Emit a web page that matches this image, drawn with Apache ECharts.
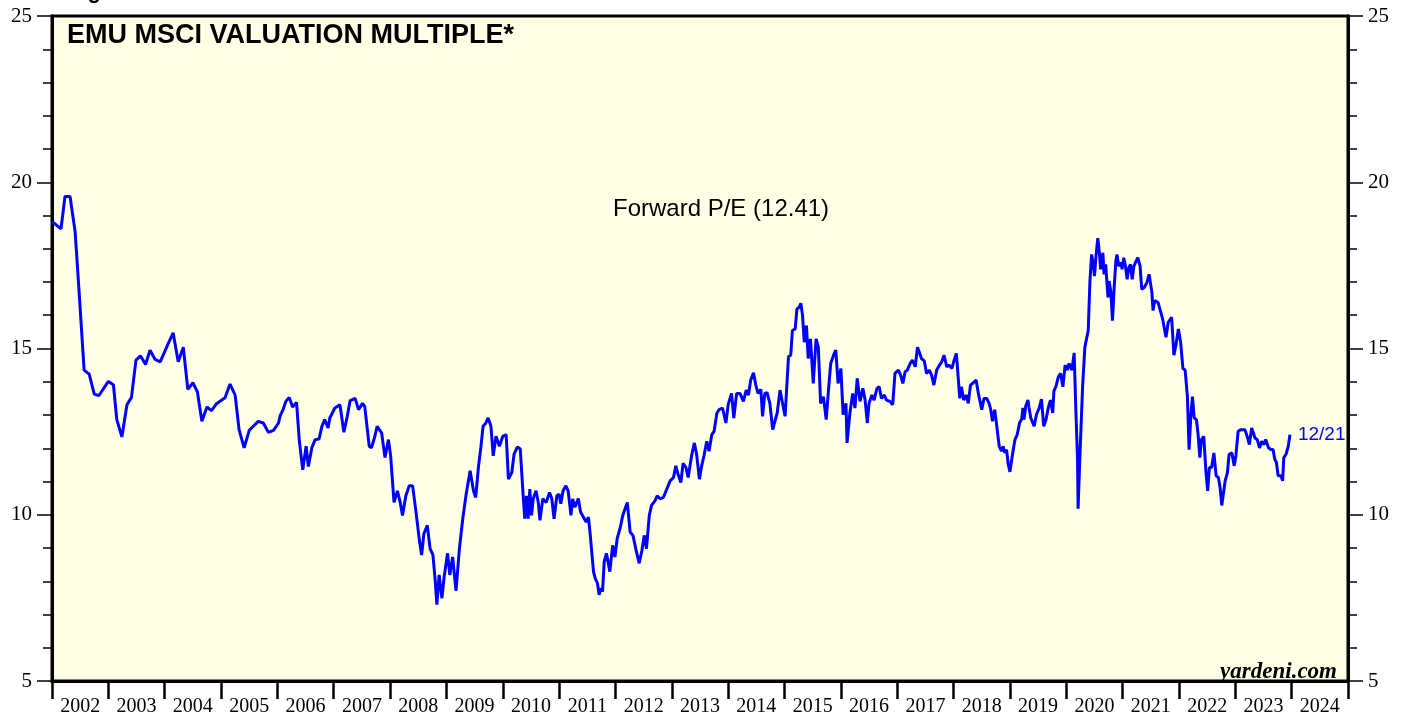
<!DOCTYPE html>
<html>
<head>
<meta charset="utf-8">
<title>EMU MSCI Valuation Multiple</title>
<script src="https://cdn.jsdelivr.net/npm/echarts@6/dist/echarts.min.js"></script>
<style>
  html, body { margin: 0; padding: 0; background: #fff; }
  #chart { width: 1408px; height: 717px; }
</style>
</head>
<body>
<div id="chart"></div>
<script>
// year labels under the bottom axis
var yearLabels = ['2002','2003','2004','2005','2006','2007','2008','2009','2010','2011','2012',
  '2013','2014','2015','2016','2017','2018','2019','2020','2021','2022','2023','2024'];

// dates as decimal years
var dates = [
  2002.00,2002.16,2002.23,2002.32,2002.41,2002.48,2002.57,2002.66,2002.75,2002.83,
  2003.00,2003.09,2003.15,2003.24,2003.33,2003.41,2003.49,2003.57,2003.66,2003.74,2003.83,2003.92,
  2004.06,2004.15,2004.24,2004.33,2004.41,2004.50,2004.58,2004.66,2004.75,2004.83,2004.92,
  2005.07,2005.16,2005.25,2005.32,2005.41,2005.50,2005.66,2005.75,2005.84,2005.93,
  2006.02,2006.05,2006.10,2006.15,2006.21,2006.27,2006.34,2006.39,2006.45,2006.51,2006.55,2006.61,
  2006.67,2006.74,2006.79,2006.84,2006.90,2006.93,
  2007.02,2007.11,2007.18,2007.24,2007.29,2007.38,2007.44,2007.51,2007.55,2007.63,2007.67,2007.73,
  2007.77,2007.85,2007.91,2007.97,
  2008.01,2008.07,2008.13,2008.18,2008.22,2008.28,2008.34,2008.40,2008.46,2008.52,2008.56,2008.60,
  2008.66,2008.71,2008.76,2008.80,2008.83,2008.87,2008.92,2008.96,
  2009.02,2009.06,2009.11,2009.17,2009.23,2009.29,2009.35,2009.42,2009.48,2009.52,2009.57,2009.61,
  2009.65,2009.70,2009.74,2009.79,2009.83,2009.88,2009.94,
  2010.00,2010.06,2010.10,2010.16,2010.20,2010.26,2010.31,2010.36,2010.39,2010.42,2010.45,2010.48,
  2010.51,2010.54,2010.59,2010.63,2010.66,2010.71,2010.77,2010.83,2010.87,2010.91,2010.96,
  2011.00,2011.03,2011.07,2011.12,2011.16,2011.21,2011.24,2011.28,2011.34,2011.38,2011.43,2011.48,
  2011.52,2011.55,2011.58,2011.61,2011.64,2011.68,2011.71,2011.74,2011.77,2011.80,2011.84,2011.90,
  2011.95,2011.99,
  2012.03,2012.08,2012.13,2012.17,2012.21,2012.26,2012.31,2012.36,2012.42,2012.47,2012.51,2012.55,
  2012.60,2012.64,2012.70,2012.74,2012.79,2012.85,2012.91,2012.97,
  2013.03,2013.07,2013.11,2013.16,2013.20,2013.25,2013.29,2013.35,2013.40,2013.44,2013.49,2013.53,
  2013.57,2013.62,2013.66,2013.71,2013.75,2013.80,2013.84,2013.90,2013.96,
  2014.00,2014.06,2014.10,2014.15,2014.21,2014.27,2014.32,2014.36,2014.40,2014.45,2014.49,2014.53,
  2014.58,2014.61,2014.65,2014.69,2014.74,2014.79,2014.83,2014.87,2014.92,2014.97,
  2015.01,2015.04,2015.07,2015.11,2015.14,2015.19,2015.22,2015.26,2015.29,2015.32,2015.35,2015.39,
  2015.42,2015.46,2015.51,2015.56,2015.60,2015.64,2015.69,2015.74,2015.78,2015.82,2015.87,2015.91,
  2015.95,
  2016.00,2016.04,2016.09,2016.11,2016.16,2016.21,2016.25,2016.29,2016.34,2016.39,2016.43,2016.47,
  2016.50,2016.55,2016.59,2016.64,2016.68,2016.72,2016.77,2016.81,2016.87,2016.92,2016.96,
  2017.02,2017.06,2017.10,2017.14,2017.18,2017.23,2017.27,2017.32,2017.36,2017.39,2017.43,2017.48,
  2017.52,2017.57,2017.61,2017.65,2017.70,2017.75,2017.79,2017.83,2017.88,2017.92,2017.97,
  2018.01,2018.05,2018.11,2018.14,2018.18,2018.23,2018.26,2018.30,2018.35,2018.40,2018.44,2018.47,
  2018.50,2018.54,2018.59,2018.63,2018.66,2018.69,2018.73,2018.76,2018.81,2018.85,2018.88,2018.91,
  2018.94,2018.97,
  2019.00,2019.05,2019.09,2019.13,2019.17,2019.21,2019.23,2019.25,2019.28,2019.32,2019.34,2019.37,
  2019.40,2019.43,2019.47,2019.52,2019.56,2019.60,2019.64,2019.68,2019.72,2019.76,2019.78,2019.82,
  2019.86,2019.90,2019.94,2019.98,
  2020.02,2020.05,2020.10,2020.14,2020.17,2020.20,2020.21,2020.24,2020.29,2020.33,2020.36,2020.39,
  2020.42,2020.45,2020.48,2020.50,2020.53,2020.56,2020.59,2020.61,2020.65,2020.67,2020.70,2020.74,
  2020.76,2020.79,2020.82,2020.85,2020.88,2020.90,2020.93,2020.97,2020.99,
  2021.02,2021.05,2021.08,2021.11,2021.14,2021.17,2021.20,2021.24,2021.27,2021.31,2021.34,2021.38,
  2021.43,2021.47,2021.52,2021.54,2021.57,2021.63,2021.66,2021.71,2021.77,2021.81,2021.87,2021.91,
  2021.95,2021.99,
  2022.03,2022.07,2022.11,2022.15,2022.18,2022.21,2022.24,2022.27,2022.31,2022.34,2022.37,2022.40,
  2022.44,2022.48,2022.51,2022.54,2022.58,2022.62,2022.66,2022.70,2022.73,2022.76,2022.79,2022.82,
  2022.86,2022.89,2022.94,2022.98,
  2023.01,2023.05,2023.10,2023.13,2023.17,2023.21,2023.25,2023.29,2023.32,2023.35,2023.39,2023.43,
  2023.47,2023.51,2023.54,2023.59,2023.63,2023.67,2023.70,2023.73,2023.76,2023.81,2023.84,2023.86,
  2023.90,2023.94,2023.97
];

// forward P/E
var forwardPE = [
  18.82,18.60,19.57,19.57,18.52,16.73,14.35,14.23,13.63,13.58,
  14.01,13.91,12.86,12.34,13.31,13.53,14.65,14.78,14.52,14.95,14.67,14.60,
  15.14,15.47,14.60,15.04,13.77,13.97,13.70,12.81,13.24,13.13,13.34,
  13.52,13.93,13.60,12.56,12.01,12.54,12.81,12.76,12.48,12.54,
  12.76,12.98,13.16,13.41,13.53,13.24,13.38,12.21,11.35,12.06,11.45,12.01,
  12.26,12.28,12.66,12.86,12.61,12.91,
  13.21,13.31,12.48,12.96,13.43,13.50,13.16,13.35,13.26,12.06,12.01,12.36,
  12.66,12.46,11.72,12.26,
  11.77,10.37,10.72,10.37,9.98,10.57,10.87,10.87,10.08,9.23,8.79,9.43,
  9.68,8.98,8.79,8.04,7.30,8.19,7.49,8.14,
  8.84,8.19,8.73,7.71,8.98,9.88,10.62,11.32,10.72,10.52,11.47,12.01,
  12.66,12.76,12.91,12.66,11.77,12.36,12.06,
  12.36,12.41,11.07,11.27,11.82,12.04,11.98,10.62,9.88,10.57,9.88,10.77,
  9.98,10.48,10.72,10.37,9.83,10.48,10.37,10.67,10.48,9.88,10.57,
  10.62,10.33,10.72,10.87,10.72,9.98,10.48,10.23,10.49,10.08,9.93,9.78,
  9.93,9.43,9.48,8.29,8.09,7.94,7.59,7.79,7.69,8.59,8.84,8.29,
  9.08,8.73,
  9.28,9.58,9.98,10.18,10.37,9.48,9.38,8.98,8.54,8.93,9.38,8.98,
  9.98,10.28,10.42,10.57,10.48,10.52,10.77,11.02,
  11.12,11.47,11.22,10.97,11.55,11.42,11.12,11.77,12.16,11.82,11.07,11.47,
  11.77,12.21,11.91,12.41,12.51,13.06,13.16,13.21,12.76,
  13.31,13.65,12.91,13.65,13.65,13.41,13.75,13.60,14.05,14.27,13.90,13.65,
  13.77,12.96,13.65,13.67,13.35,12.56,12.81,13.06,13.75,13.31,
  12.96,13.85,14.75,14.80,15.54,15.59,16.19,16.24,16.36,15.99,15.19,15.69,
  14.70,15.29,13.95,15.29,15.04,13.35,13.55,12.86,13.75,14.55,14.80,14.95,
  13.95,
  14.40,13.01,13.35,12.16,13.06,13.65,13.21,14.10,13.41,13.80,13.45,12.76,
  13.35,13.60,13.45,13.80,13.85,13.50,13.60,13.45,13.41,13.31,14.25,
  14.35,14.20,13.95,14.30,14.35,14.55,14.65,14.45,15.04,14.90,14.70,14.63,
  14.25,14.35,14.20,13.90,14.35,14.50,14.60,14.80,14.45,14.50,14.40,
  14.65,14.85,13.50,13.85,13.45,13.60,13.35,13.90,13.97,14.05,13.65,13.60,
  13.16,13.50,13.50,13.35,13.16,12.81,13.16,12.76,12.06,11.91,12.06,11.86,
  11.96,11.52,
  11.29,11.86,12.26,12.41,12.76,12.88,13.21,12.86,13.26,13.45,13.21,12.91,
  12.96,12.66,13.01,13.21,13.48,12.66,12.86,13.21,13.45,13.06,13.71,13.88,
  14.15,14.25,13.85,14.50,
  14.35,14.55,14.35,14.87,13.16,11.67,10.18,11.67,13.85,15.04,15.09,15.54,
  17.03,17.83,17.53,17.18,17.83,18.32,17.83,17.38,17.88,17.23,17.53,16.54,
  17.03,16.73,15.84,16.83,17.63,17.83,17.48,17.58,17.38,
  17.73,17.48,17.08,17.43,17.53,17.08,17.48,17.63,17.73,17.48,16.78,16.83,
  16.98,17.23,16.68,16.14,16.44,16.38,16.34,15.89,15.34,15.79,15.94,14.80,
  15.14,15.59,
  15.19,14.40,14.35,13.55,11.96,12.96,13.55,12.91,12.86,12.41,11.72,12.26,
  12.36,11.27,10.72,11.42,11.42,11.86,11.17,11.12,10.82,10.28,10.23,11.02,
  11.27,11.82,11.86,11.47,
  11.77,12.51,12.56,12.61,12.56,12.36,12.11,12.61,12.56,12.31,12.26,12.01,
  12.21,12.11,12.26,12.01,11.96,11.96,11.67,11.57,11.17,11.17,11.02,11.72,
  11.82,12.06,12.41
];

var yTicks = [5, 10, 15, 20, 25];
var lastLabel = '12/21';

var seriesData = [];
for (var i = 0; i < dates.length; i++) {
  seriesData.push([dates[i], forwardPE[i]]);
}

var chart = echarts.init(document.getElementById('chart'), null, { renderer: 'canvas' });

var serif = '"Liberation Serif", "DejaVu Serif", serif';
var sans = '"Liberation Sans", Arial, sans-serif';

function yAxisOpt(pos) {
  return {
    type: 'value',
    position: pos,
    min: yTicks[0],
    max: yTicks[yTicks.length - 1],
    interval: 5,
    axisLine: { show: true, lineStyle: { color: '#000', width: 3 } },
    axisTick: { show: true, length: 15, lineStyle: { color: '#000', width: 1.5 } },
    minorTick: { show: true, splitNumber: 5, length: 9, lineStyle: { color: '#000', width: 1.5 } },
    splitLine: { show: false },
    axisLabel: { color: '#000', fontFamily: serif, fontSize: 21, margin: 20 }
  };
}

var option = {
  animation: false,
  backgroundColor: '#ffffff',
  grid: {
    left: 52, right: 60, top: 16, bottom: 29,
    show: true,
    backgroundColor: '#FFFFE6',
    borderColor: '#000',
    borderWidth: 3
  },
  xAxis: [
    {
      type: 'category',
      data: yearLabels,
      position: 'bottom',
      boundaryGap: true,
      axisLine: { show: true, lineStyle: { color: '#000', width: 3 } },
      axisTick: { show: true, length: 18, interval: 0, lineStyle: { color: '#000', width: 2.5 } },
      axisLabel: { color: '#000', fontFamily: serif, fontSize: 20, margin: 16, interval: 0 },
      splitLine: { show: false }
    },
    {
      type: 'value',
      min: 2002,
      max: 2025,
      show: false
    }
  ],
  yAxis: [yAxisOpt('left'), yAxisOpt('right')],
  series: [{
    type: 'line',
    xAxisIndex: 1,
    yAxisIndex: 0,
    data: seriesData,
    showSymbol: false,
    lineStyle: { color: '#0000FF', width: 3 },
    endLabel: {
      show: true,
      formatter: lastLabel,
      color: '#0000FF',
      fontFamily: sans,
      fontSize: 19,
      distance: 8
    }
  }],
  graphic: [
    {
      type: 'text', left: 68, top: -19,
      style: { text: 'Figure', fill: '#000', font: 'bold 22px ' + sans }
    },
    {
      type: 'text', left: 67, top: 22,
      style: { text: 'EMU MSCI VALUATION MULTIPLE*', fill: '#000', font: 'bold 27px ' + sans }
    },
    {
      type: 'text', left: 613, top: 197,
      style: { text: 'Forward P/E (12.41)', fill: '#000', font: '24px ' + sans }
    },
    {
      type: 'text', right: 71, top: 661,
      style: { text: 'yardeni.com', fill: '#000', font: 'italic bold 23px ' + serif }
    }
  ]
};

chart.setOption(option);
</script>
</body>
</html>
